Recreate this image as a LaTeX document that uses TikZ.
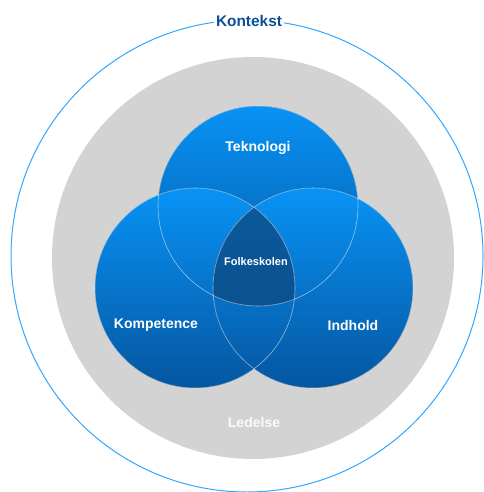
\documentclass[tikz,border=0pt]{standalone}
\usepackage{fontspec}
\setmainfont{Liberation Sans}
\definecolor{ctxline}{HTML}{33A6FF}
\definecolor{ctxtext}{HTML}{0B4F96}
\definecolor{ringgray}{HTML}{D3D3D3}
\definecolor{bluetop}{HTML}{0893F6}
\definecolor{bluebot}{HTML}{0556A0}
\definecolor{coretop}{HTML}{0B5A9C}
\definecolor{corebot}{HTML}{094C88}
\tikzset{
  venn/.style={top color=bluetop, bottom color=bluebot},
  vennline/.style={draw=white, draw opacity=0.55, line width=0.6pt},
  lbl/.style={text=white, font=\bfseries\fontsize{14}{16}\selectfont, inner sep=1pt},
  smalllbl/.style={text=white, font=\bfseries\fontsize{11}{13}\selectfont, inner sep=1pt},
  ctxlbl/.style={text=ctxtext, fill=white, font=\bfseries\fontsize{15.4}{18}\selectfont, inner sep=2pt},
}
\begin{document}
\begin{tikzpicture}[x=1pt,y=-1pt]
\useasboundingbox (0,0) rectangle (483,492);
% outer context circle
\draw[ctxline, line width=1pt] (247,256) circle (236);
% gray ring (Ledelse)
\fill[ringgray] (253,258) circle (201);
% three circles
\coordinate (ct) at (258,206);
\coordinate (cl) at (195,288);
\coordinate (cr) at (313,288);
\fill[venn] (ct) circle (100);
\fill[venn] (cl) circle (100);
\fill[venn] (cr) circle (100);
% centre intersection
\begin{scope}
  \clip (ct) circle (100);
  \clip (cl) circle (100);
  \fill[top color=coretop, bottom color=corebot] (cr) circle (100);
\end{scope}
% thin outlines
\draw[vennline] (ct) circle (100);
\draw[vennline] (cl) circle (100);
\draw[vennline] (cr) circle (100);
% labels
\node[ctxlbl] (kontekst) at (249,21) {Kontekst};
\node[lbl] (teknologi) at (258,148) {Teknologi};
\node[lbl] (kompetence) at (156,325) {Kompetence};
\node[lbl] (indhold) at (353,325) {Indhold};
\node[smalllbl] (folkeskolen) at (256,262) {Folkeskolen};
\node[lbl, text=white!97!gray] (ledelse) at (254,422) {Ledelse};
\end{tikzpicture}
\end{document}
